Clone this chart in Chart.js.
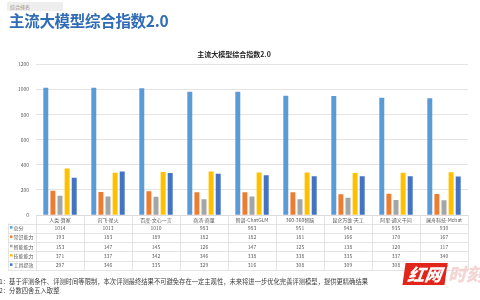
<!DOCTYPE html>
<html>
<head>
<meta charset="utf-8">
<script src="https://cdn.jsdelivr.net/npm/chart.js@4"></script>
<style>
  body { margin: 0; background: #fff; font-family: 'Noto Sans CJK SC', sans-serif; }
  #wrap { position: relative; width: 480px; height: 300px; overflow: hidden; }
  #chart { position: absolute; left: 0; top: 0; }
  .tag { position: absolute; left: 7px; top: 2px; width: 56px; height: 9px; background: #eeeeee;
         color: #8a8a8a; font-size: 5px; line-height: 9px; padding-left: 3px; box-sizing: border-box; }
  .title { position: absolute; left: 9px; top: 9px; color: #2f6cb5; font-size: 15.5px; font-weight: 700;
           letter-spacing: -0.3px; white-space: nowrap; }
  .note { position: absolute; left: -7px; color: #3a3a3a; font-size: 6.3px; white-space: nowrap; }
  .wm { position: absolute; left: 404px; top: 263px; width: 42px; height: 22px; background: #e1251b;
        color: #fff; font-weight: 900; font-style: italic; font-size: 17px; line-height: 22px; text-align: center;
        transform: skewX(-8deg); }
  .wm2 { position: absolute; left: 448px; top: 262px; color: #f3d6d4; font-weight: 900; font-style: italic;
         font-size: 18px; line-height: 22px; white-space: nowrap; }
</style>
</head>
<body>
<div id="wrap">
  <canvas id="chart" width="480" height="300"></canvas>
  <div class="tag">综合排名</div>
  <div class="title">主流大模型综合指数2.0</div>
  <div class="note" style="top:277px">注1：基于评测条件、评测时间等限制，本次评测最终结果不可避免存在一定主观性，未来将进一步优化完善评测模型，提供更精确结果</div>
  <div class="note" style="top:286px">注2：分数四舍五入取整</div>
  <div class="wm">红网</div>
  <div class="wm2">时刻</div>
</div>
<script>
const categories = ['人类-算家', '讯飞-星火', '百度-文心一言', '商汤-商量', '智谱-ChatGLM',
  '360-360智脑', '昆仑万维-天工', '阿里-通义千问', '澜舟科技-Mchat'];
const seriesNames = ['总分', '常识能力', '智能能力', '技能能力', '工具提效'];
const totalScore = [1014, 1013, 1010, 983, 983, 951, 948, 935, 930];
const commonSense = [193, 183, 189, 182, 182, 181, 166, 170, 167];
const intelligence = [153, 147, 145, 126, 147, 125, 138, 120, 117];
const skills = [371, 337, 342, 346, 338, 338, 335, 337, 340];
const toolUse = [297, 346, 335, 329, 316, 308, 309, 308, 306];
const yTicks = [0, 200, 400, 600, 800, 1000, 1200];

const colors = ['#5b9bd5', '#ed7d31', '#a5a5a5', '#ffc000', '#4472c4'];
const seriesData = [totalScore, commonSense, intelligence, skills, toolUse];
const FONT = "'Noto Sans CJK SC', sans-serif";

const tablePlugin = {
  id: 'dataTable',
  afterDraw(chart) {
    const { ctx, chartArea, scales: { x } } = chart;
    const step = x.getPixelForValue(1) - x.getPixelForValue(0);
    const top = chartArea.bottom;
    const headerH = 8.5, rowH = 9.3;
    const tableLeft = 8;
    const colEdges = categories.map((_, i) => x.getPixelForValue(i) - step / 2);
    colEdges.push(x.getPixelForValue(categories.length - 1) + step / 2);
    const bottom = top + headerH + rowH * seriesNames.length;

    ctx.save();
    ctx.strokeStyle = '#d9d9d9';
    ctx.lineWidth = 0.7;
    ctx.beginPath();
    // header top line only over the category columns
    ctx.moveTo(colEdges[0], top + 0.5);
    ctx.lineTo(colEdges[colEdges.length - 1], top + 0.5);
    for (let r = 0; r <= seriesNames.length; r++) {
      const y = Math.round(top + headerH + r * rowH) + 0.5;
      ctx.moveTo(tableLeft, y);
      ctx.lineTo(colEdges[colEdges.length - 1], y);
    }
    colEdges.forEach(cx => {
      ctx.moveTo(Math.round(cx) + 0.5, top);
      ctx.lineTo(Math.round(cx) + 0.5, bottom);
    });
    ctx.moveTo(tableLeft + 0.5, top + headerH);
    ctx.lineTo(tableLeft + 0.5, bottom);
    ctx.stroke();

    ctx.textBaseline = 'middle';
    ctx.fillStyle = '#595959';
    ctx.font = `5px ${FONT}`;
    ctx.textAlign = 'center';
    categories.forEach((c, i) => ctx.fillText(c, x.getPixelForValue(i), top + headerH / 2 + 0.5));

    seriesNames.forEach((name, r) => {
      const cy = top + headerH + r * rowH + rowH / 2;
      ctx.fillStyle = colors[r];
      ctx.fillRect(tableLeft + 2, cy - 2, 2.5, 2.5);
      ctx.fillStyle = '#595959';
      ctx.textAlign = 'left';
      ctx.fillText(name, tableLeft + 5.5, cy);
      ctx.textAlign = 'center';
      seriesData[r].forEach((v, i) => ctx.fillText(String(v), x.getPixelForValue(i), cy));
    });
    ctx.restore();
  },
};

new Chart(document.getElementById('chart'), {
  type: 'bar',
  data: {
    labels: categories,
    datasets: seriesNames.map((name, i) => ({
      label: name,
      data: seriesData[i],
      backgroundColor: colors[i],
      categoryPercentage: 0.74,
      barPercentage: 0.7,
    })),
  },
  options: {
    responsive: false,
    animation: false,
    layout: { padding: { top: 50, bottom: 85, left: 0, right: 12 } },
    plugins: {
      legend: { display: false },
      tooltip: { enabled: false },
      title: {
        display: true,
        text: '主流大模型综合指数2.0',
        color: '#222',
        font: { family: FONT, size: 7, weight: 'bold' },
        padding: { top: 0, bottom: 6 },
      },
    },
    scales: {
      x: {
        grid: { display: false },
        border: { display: false },
        ticks: { display: false },
        afterFit: s => { s.height = 0; },
      },
      y: {
        min: 0,
        max: 1200,
        afterBuildTicks: s => { s.ticks = yTicks.map(v => ({ value: v })); },
        grid: { color: '#d9d9d9', lineWidth: 0.7, drawTicks: false },
        border: { display: false },
        ticks: {
          color: '#595959',
          font: { family: FONT, size: 5 },
          padding: 7,
          callback: v => String(v),
        },
        afterFit: s => { s.width = 36; },
      },
    },
  },
  plugins: [tablePlugin],
});
</script>
</body>
</html>
